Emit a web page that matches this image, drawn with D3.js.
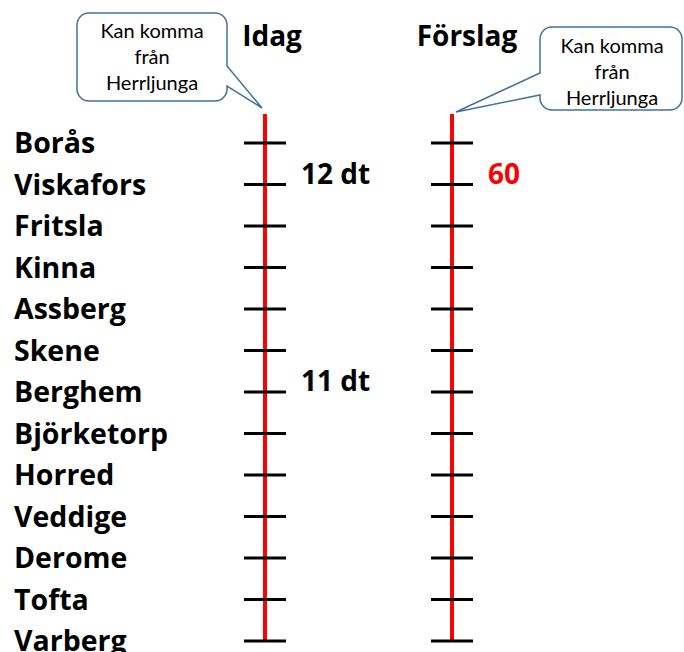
<!DOCTYPE html>
<html><head><meta charset="utf-8">
<script src="https://cdn.jsdelivr.net/npm/d3@7"></script>
<style>html,body{margin:0;padding:0;background:#fff;overflow:hidden}</style>
</head><body>
<svg id="c" width="684" height="652"></svg>
<script>
const stations = ["Borås","Viskafors","Fritsla","Kinna","Assberg","Skene","Berghem","Björketorp","Horred","Veddige","Derome","Tofta","Varberg"];
const columns = ["Idag","Förslag"];
const annotations = [
  {column:"Idag", station:"Viskafors", text:"12 dt", color:"#000000"},
  {column:"Idag", station:"Berghem", text:"11 dt", color:"#000000"},
  {column:"Förslag", station:"Viskafors", text:"60", color:"#FF0000"}
];
const calloutText = ["Kan komma","från","Herrljunga"];

const svg = d3.select("#c");
const BOLD = "'Open Sans', Lato, sans-serif";
const REG = "Lato, 'Open Sans', sans-serif";
const y = d3.scalePoint().domain(stations).range([143, 641]);
const x = d3.scalePoint().domain(columns).range([265, 452]);

// station labels
svg.append("g").selectAll("text").data(stations).join("text")
  .attr("x", 14).attr("y", d => y(d) + 10)
  .attr("font-family", BOLD).attr("font-weight", 700).attr("font-size", 28.5)
  .attr("fill", "#000").text(d => d);

// columns
const col = svg.append("g").selectAll("g").data(columns).join("g")
  .attr("transform", d => `translate(${x(d)},0)`);
col.append("line").attr("x1",0).attr("x2",0).attr("y1", 114).attr("y2", y(stations[stations.length-1]))
  .attr("stroke","#FF0000").attr("stroke-width",4);
col.selectAll("line.tick").data(stations).join("line").attr("class","tick")
  .attr("x1",-21).attr("x2",21).attr("y1",d=>y(d)).attr("y2",d=>y(d))
  .attr("stroke","#000").attr("stroke-width",3);

// titles
svg.append("g").selectAll("text").data(columns).join("text")
  .attr("x", (d,i) => x(d) + (i===0 ? 7 : 15)).attr("y", 46)
  .attr("text-anchor","middle")
  .attr("font-family", BOLD).attr("font-weight", 700).attr("font-size", 28)
  .text(d => d);

// annotations
svg.append("g").selectAll("text").data(annotations).join("text")
  .attr("x", d => x(d.column) + 36).attr("y", d => y(d.station) - 1)
  .attr("font-family", BOLD).attr("font-weight", 700).attr("font-size", 28)
  .attr("fill", d => d.color).text(d => d.text);

// callouts
function callout(bx, by, w, h, tip, baseA, baseB, cx, lineY) {
  const r = 12;
  const g = svg.append("g");
  let p = d3.path();
  const x0=bx, y0=by, x1=bx+w, y1=by+h;
  p.moveTo(x0+r, y0);
  p.lineTo(x1-r, y0); p.arcTo(x1, y0, x1, y0+r, r);
  if (tip.side === "right") { p.lineTo(x1, baseA); p.lineTo(tip.x, tip.y); p.lineTo(x1, baseB); }
  p.lineTo(x1, y1-r); p.arcTo(x1, y1, x1-r, y1, r);
  p.lineTo(x0+r, y1); p.arcTo(x0, y1, x0, y1-r, r);
  if (tip.side === "left") { p.lineTo(x0, baseB); p.lineTo(tip.x, tip.y); p.lineTo(x0, baseA); }
  p.lineTo(x0, y0+r); p.arcTo(x0, y0, x0+r, y0, r);
  p.closePath();
  g.append("path").attr("d", p.toString()).attr("fill","#fff").attr("stroke","#41719C").attr("stroke-width",1.5);
  g.selectAll("text").data(calloutText).join("text")
    .attr("x", cx).attr("y", (d,i) => lineY + i*26)
    .attr("text-anchor","middle").attr("font-family", REG).attr("font-size", 20).attr("fill","#000")
    .text(d => d);
}
callout(77, 13, 150, 88, {side:"right", x: x("Idag")-3, y: 108}, 66, 86, 152, 38);
callout(540, 27, 142, 83, {side:"left", x: x("Förslag")+4, y: 112}, 73, 95, 612, 53);
</script>
</body></html>
